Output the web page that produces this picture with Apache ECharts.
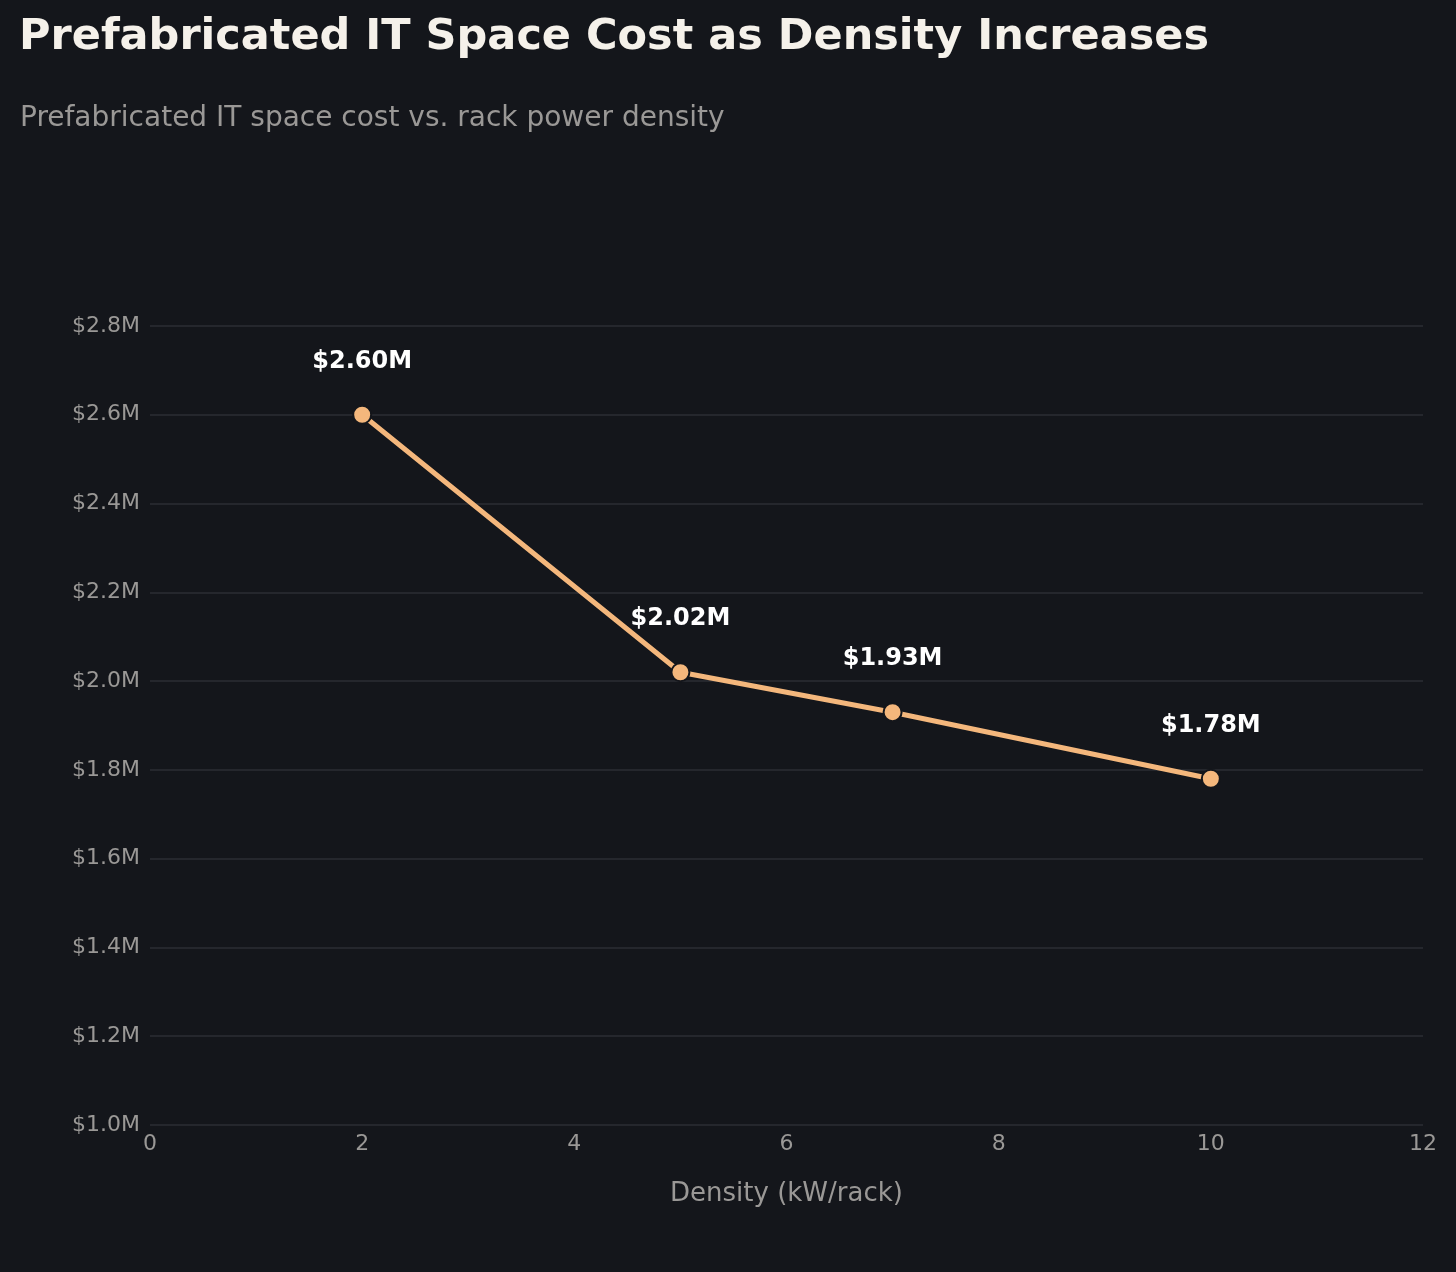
<!DOCTYPE html>
<html>
<head>
<meta charset="utf-8">
<script src="https://cdn.jsdelivr.net/npm/echarts@6/dist/echarts.min.js"></script>
<style>
	html, body { margin: 0; padding: 0; background: #14161b; }
	#chart { width: 1456px; height: 1272px; }
</style>
</head>
<body>
<div id="chart"></div>
<script>
// density in kW/rack, cost in $M
var densidad = [2, 5, 7, 10];
var costo = [2.60, 2.02, 1.93, 1.78];
var ticksY = [1.0, 1.2, 1.4, 1.6, 1.8, 2.0, 2.2, 2.4, 2.6, 2.8];

function initLine(divName) {
	var dom = document.getElementById(divName);
	var myChart = echarts.init(dom);
	var puntos = [];
	densidad.forEach((item, index) => {
		puntos.push([item, costo[index]]);
	});
	var fuente = 'DejaVu Sans';
	var option = {
		backgroundColor: '#14161b',
		animation: false,
		title: [
			{
				text: 'Prefabricated IT Space Cost as Density Increases',
				left: 14,
				top: 11,
				textStyle: { color: '#f5f1ea', fontFamily: fuente, fontWeight: 'bold', fontSize: 43 }
			},
			{
				text: 'Prefabricated IT space cost vs. rack power density',
				left: 15,
				top: 100,
				textStyle: { color: '#9a9896', fontFamily: fuente, fontWeight: 'normal', fontSize: 28 }
			}
		],
		grid: {
			left: 150,
			right: 33,
			top: 326,
			bottom: 147
		},
		xAxis: {
			type: 'value',
			min: 0,
			max: 12,
			interval: 2,
			name: 'Density (kW/rack)',
			nameLocation: 'middle',
			nameGap: 56,
			nameTextStyle: { color: '#9a9896', fontFamily: fuente, fontSize: 26 },
			axisLine: { show: false },
			axisTick: { show: false },
			splitLine: { show: false },
			axisLabel: { color: '#9a9896', fontFamily: fuente, fontSize: 22, margin: 8 }
		},
		yAxis: {
			type: 'value',
			min: ticksY[0],
			max: ticksY[ticksY.length - 1],
			interval: 0.2,
			axisLine: { show: false },
			axisTick: { show: false },
			splitLine: { lineStyle: { color: '#2b2e34', width: 1.5 } },
			axisLabel: {
				color: '#9a9896',
				fontFamily: fuente,
				fontSize: 22,
				margin: 10,
				formatter: function (v) { return '$' + v.toFixed(1) + 'M'; }
			}
		},
		series: [
			{
				name: 'Costo',
				type: 'line',
				data: puntos,
				symbol: 'circle',
				symbolSize: 18,
				lineStyle: { color: '#f4b77c', width: 5 },
				itemStyle: { color: '#f4b77c', borderColor: '#14161b', borderWidth: 2 },
				label: {
					show: true,
					position: 'top',
					distance: 31,
					color: '#ffffff',
					fontFamily: fuente,
					fontWeight: 'bold',
					fontSize: 24,
					formatter: function (p) { return '$' + p.value[1].toFixed(2) + 'M'; }
				},
				z: 3
			}
		]
	};

	if (option && typeof option === "object") {
		myChart.setOption(option, true);
	}
}

initLine('chart');
</script>
</body>
</html>
